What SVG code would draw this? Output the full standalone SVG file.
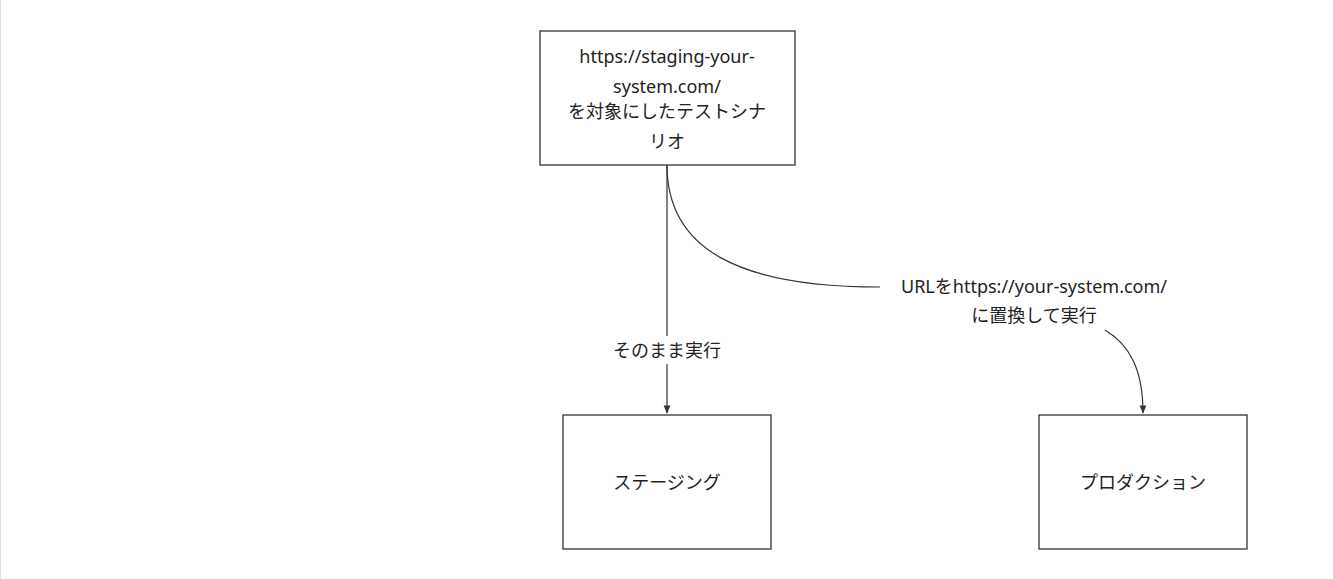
<svg xmlns="http://www.w3.org/2000/svg" width="1333" height="579" viewBox="0 0 1333 579">
<style>
.n{fill:#fff;stroke:#333;stroke-width:1.3}
.t{font-family:"Noto Sans","Noto Sans CJK JP",sans-serif;font-size:18px;fill:#222;text-anchor:middle}
.c{fill:none;stroke:#333;stroke-width:1.2}
</style>
<defs><marker id="a" viewBox="0 0 10 10" refX="9" refY="5" markerWidth="7" markerHeight="7" orient="auto"><path d="M0,1L10,5L0,9z" fill="#333"/></marker></defs>
<rect width="1333" height="579" fill="#fff"/>
<line x1="0.5" y1="0" x2="0.5" y2="579" stroke="#ddd"/>
<g id="connectors">
<path class="c" d="M667,165V413" marker-end="url(#a)"/>
<rect x="600" y="336" width="134" height="28" fill="#fff"/>
<text class="t" x="667" y="357">そのまま実行</text>
<path class="c" d="M667,165C667,250 740,287 880,287"/>
<path class="c" d="M1105,330C1130,345 1143,370 1143,413" marker-end="url(#a)"/>
<text class="t" x="1034" y="293">URLをhttps://your-system.com/</text>
<text class="t" x="1034" y="322">に置換して実行</text>
</g>
<g id="scenario"><rect class="n" x="540" y="31" width="255" height="134"/>
<text class="t" x="667" y="63">https://staging-your-</text>
<text class="t" x="667" y="93">system.com/</text>
<text class="t" x="667" y="118">を対象にしたテストシナ</text>
<text class="t" x="667" y="148">リオ</text></g>
<g id="staging"><rect class="n" x="563" y="415" width="208" height="134"/><text class="t" x="667" y="489">ステージング</text></g>
<g id="production"><rect class="n" x="1039" y="415" width="208" height="134"/><text class="t" x="1143" y="489">プロダクション</text></g>
</svg>
